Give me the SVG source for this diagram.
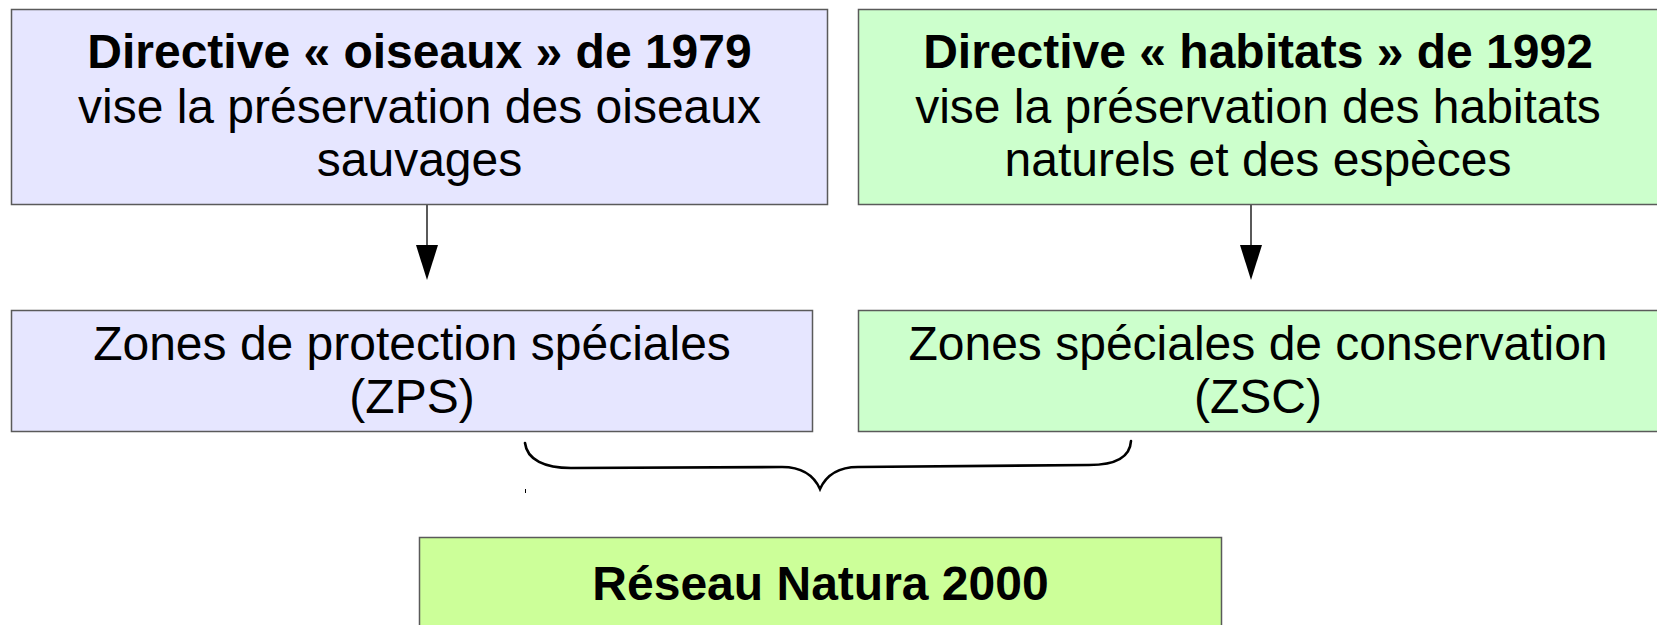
<svg xmlns="http://www.w3.org/2000/svg" width="1657" height="625" viewBox="0 0 1657 625">
<style>
.box{stroke:#5a5a5a;stroke-width:1.5}
.blue{fill:#e6e6ff}
.green{fill:#ccffcc}
.lime{fill:#ccff99}
text{font-family:"Liberation Sans",Arial,sans-serif;font-size:48px;fill:#000;text-anchor:middle}
.b{font-weight:bold}
.conn{stroke:#000;stroke-width:1.3;fill:none}
.head{fill:#000}
.brace{stroke:#000;stroke-width:2.6;fill:none;stroke-linecap:round}
</style>
<rect width="1657" height="625" fill="#fff"/>
<g id="connectors">
<line class="conn" x1="427" y1="205" x2="427" y2="245"/>
<path class="head" d="M416,245 L438,245 L427,280 Z"/>
<line class="conn" x1="1251" y1="205" x2="1251" y2="245"/>
<path class="head" d="M1240,245 L1262,245 L1251,280 Z"/>
<path class="brace" d="M525,443 C527,460 545,468 571,468 L782,467 C805,467 815,478 820,489 C825,478 835,467 858,467 L1089,465 C1115,465 1130,458 1131,441"/>
<line x1="525.5" y1="489" x2="525.5" y2="493" stroke="#000" stroke-width="1"/>
</g>
<g id="node-oiseaux">
<rect class="box blue" x="11.5" y="9.5" width="816" height="195"/>
<text class="b" x="419.5" y="68">Directive « oiseaux » de 1979</text>
<text x="419.5" y="122.5">vise la préservation des oiseaux</text>
<text x="419.5" y="176">sauvages</text>
</g>
<g id="node-habitats">
<rect class="box green" x="858.5" y="9.5" width="800" height="195"/>
<text class="b" x="1258" y="68">Directive « habitats » de 1992</text>
<text x="1258" y="122.5">vise la préservation des habitats</text>
<text x="1258" y="176">naturels et des espèces</text>
</g>
<g id="node-zps">
<rect class="box blue" x="11.5" y="310.5" width="801" height="121"/>
<text x="412" y="360">Zones de protection spéciales</text>
<text x="412" y="413">(ZPS)</text>
</g>
<g id="node-zsc">
<rect class="box green" x="858.5" y="310.5" width="800" height="121"/>
<text x="1258" y="360">Zones spéciales de conservation</text>
<text x="1258" y="413">(ZSC)</text>
</g>
<g id="node-natura">
<rect class="box lime" x="419.5" y="537.5" width="802" height="100"/>
<text class="b" x="820.5" y="600">Réseau Natura 2000</text>
</g>
</svg>
